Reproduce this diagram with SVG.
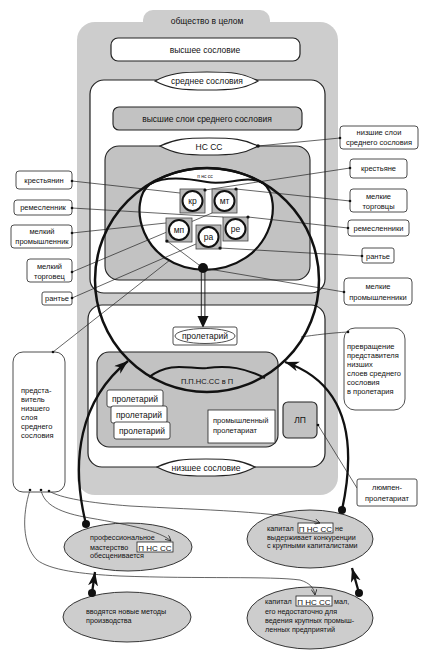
<svg xmlns="http://www.w3.org/2000/svg" width="427" height="656" viewBox="0 0 427 656">
<defs>
<style>
text{font-family:"Liberation Sans","DejaVu Sans",sans-serif;fill:#111}
.t{font-size:8.5px;text-anchor:middle}
.s{font-size:7.5px;text-anchor:middle}
.e{font-size:7.2px}
.l{font-size:7.5px}
.box{fill:#fff;stroke:#222;stroke-width:0.8}
.g1{fill:#cdcdcd}
.g2{fill:#c2c2c2;stroke:#222;stroke-width:1.1}
.wb{fill:#fff;stroke:#222;stroke-width:1.2}
.lens{fill:#fff;stroke:#222;stroke-width:1.2}
.thin{fill:none;stroke:#222;stroke-width:0.7}
.thick{fill:none;stroke:#111;stroke-width:2.3}
.sq{fill:#b9b9b9;stroke:#444;stroke-width:0.8}
.ci{fill:#fff;stroke:#111;stroke-width:2}
.el{fill:#cdcdcd;stroke:#222;stroke-width:0.9}
.dot{fill:#111}
</style>
<marker id="big" markerWidth="16" markerHeight="12" refX="14" refY="5" orient="auto" markerUnits="userSpaceOnUse"><path d="M0,0 L14,5 L0,10 L4,5 Z" fill="#111"/></marker>
<marker id="sm" markerWidth="8" markerHeight="6" refX="6" refY="3" orient="auto" markerUnits="userSpaceOnUse"><path d="M0,0 L6,3 L0,6" fill="none" stroke="#222" stroke-width="0.8"/></marker>
</defs>

<g id="society">
<rect class="g1" x="143" y="10" width="127" height="24" rx="10"/>
<rect class="g1" x="77" y="22" width="261" height="473" rx="18"/>
<text class="t" x="207" y="24">общество в целом</text>
</g>

<g id="upper-estate">
<rect class="wb" x="111" y="38" width="189" height="23" rx="7"/>
<text class="t" x="205" y="52.5">высшее сословие</text>
</g>

<g id="middle-estate">
<rect class="wb" x="90" y="80" width="235" height="213" rx="14"/>
<path class="lens" d="M155,81 C170,73 182,72 207,72 C232,72 244,73 258,81 C244,89 232,90 207,90 C182,90 170,89 155,81 Z"/>
<text class="t" x="207" y="84">среднее сословия</text>
</g>

<g id="upper-middle">
<rect class="g2" x="113" y="107" width="189" height="23" rx="6"/>
<text class="t" x="207" y="122">высшие слои среднего сословия</text>
</g>

<g id="lower-middle">
<rect class="g2" x="105" y="146" width="205" height="134" rx="14"/>
<path class="lens" d="M160,146 C175,139 185,138 209,138 C233,138 244,139 258,146 C244,154 233,155 209,155 C185,155 175,154 160,146 Z"/>
<text class="t" x="209" y="149.5">НС СС</text>
</g>

<g id="lower-estate">
<rect class="wb" x="88" y="305" width="237" height="162" rx="14"/>
<path class="lens" d="M157,467 C172,460 182,459 206,459 C230,459 241,460 255,467 C241,475 230,476 206,476 C182,476 172,475 157,467 Z"/>
<text class="t" x="206" y="470.5">низшее сословие</text>
</g>

<g id="proletarianization-box">
<rect class="g2" x="97" y="352" width="181" height="95" rx="12"/>
</g>

<g id="nscc-ellipse">
<path d="M150,184 A112,112 0 0 1 263,183 C285,200 272,268 205,270 C138,268 128,200 150,184 Z" fill="#fff" stroke="#111" stroke-width="2.2"/>
<path d="M150,184 C165,176 185,178 207,182 C228,186 245,174 263,183" fill="none" stroke="#111" stroke-width="2"/>
<text x="205" y="178" style="font-size:5px;text-anchor:middle">п нс сс</text>
</g>

<g id="e1"><ellipse class="el" cx="128" cy="547" rx="64" ry="24"/>
<text class="e" x="90" y="539.5">профессиональное</text><text class="e" x="90" y="549.5">мастерство</text><text class="e" x="90" y="558">обесценивается</text>
<rect x="137" y="542" width="36" height="10" fill="#fff" stroke="#222" stroke-width="0.8"/><text x="155" y="550.5" style="font-size:8px;text-anchor:middle">П НС СС</text></g>
<g id="e2"><ellipse class="el" cx="310" cy="539" rx="63" ry="29"/>
<text class="e" x="267" y="531">капитал</text><rect x="298" y="523" width="35" height="10" fill="#fff" stroke="#222" stroke-width="0.8"/><text x="315.5" y="531.5" style="font-size:8px;text-anchor:middle">П НС СС</text><text class="e" x="335" y="531">не</text>
<text class="e" x="267" y="539.5">выдерживает конкуренции</text><text class="e" x="267" y="548">с крупными капиталистами</text></g>
<g id="e3"><ellipse class="el" cx="127" cy="617" rx="64" ry="25"/>
<text class="e" x="86" y="613.5">вводятся новые методы</text><text class="e" x="86" y="622.5">производства</text></g>
<g id="e4"><ellipse class="el" cx="310" cy="618" rx="63" ry="31"/>
<text class="e" x="265" y="603.5">капитал</text><rect x="296" y="596" width="36" height="10" fill="#fff" stroke="#222" stroke-width="0.8"/><text x="314" y="604.5" style="font-size:8px;text-anchor:middle">П НС СС</text><text class="e" x="334" y="603.5">мал,</text>
<text class="e" x="265" y="614">его недостаточно для</text><text class="e" x="265" y="623">ведения крупных промыш-</text><text class="e" x="265" y="631.5">ленных предприятий</text></g>

<g id="connectors">
<polyline class="thin" points="72,181 180,193"/>
<polyline class="thin" points="72,208 223,217"/>
<polyline class="thin" points="72,233 166,223"/>
<polyline class="thin" points="72,272 212,213"/>
<polyline class="thin" points="72,298 196,244"/>
<polyline class="thin" points="53,352 170,260"/>
<polyline class="thin" points="350,168 205,190"/>
<polyline class="thin" points="350,201 236,189"/>
<polyline class="thin" points="348,228 248,217"/>
<polyline class="thin" points="362,256 220,248"/>
<polyline class="thin" points="344,292 203,268 167,241"/>
<polyline class="thin" points="340,138 258,146"/>
<path class="thin" d="M348,332 C330,333 315,335 301,337"/>
<polyline class="thin" points="357,488 318,425"/>
<path class="thin" d="M30,490 C22,515 22,545 37,560 C50,570 80,574 120,576 C200,579 270,576 300,580 C310,583 314,588 315,595" marker-end="url(#sm)"/>
<path class="thin" d="M41,490 C44,505 60,513 90,518 C130,525 160,531 171,541" marker-end="url(#sm)"/>
<path class="thin" d="M49,491 C60,498 90,503 130,506 C200,510 280,511 320,523" marker-end="url(#sm)"/>
<line x1="201.3" y1="272" x2="201.3" y2="317" stroke="#111" stroke-width="0.9"/>
<line x1="204.9" y1="272" x2="204.9" y2="317" stroke="#111" stroke-width="0.9"/>
<path d="M197.5,316 L208.5,316 L203,328 Z" fill="#111"/>
<path class="thick" d="M86,524 C70,460 80,400 128,361" marker-end="url(#big)"/>
<path class="thick" d="M342,510 C355,450 352,385 285,362" marker-end="url(#big)"/>
<path class="thick" d="M92,593 L95,572" marker-end="url(#big)"/>
<path class="thick" d="M359,593 L352,568" marker-end="url(#big)"/>
</g>

<g id="sq-kr"><rect class="sq" x="180" y="189" width="25" height="24"/><circle class="ci" cx="192.5" cy="201" r="10"/><text class="t" x="192.5" y="204">кр</text></g>
<g id="sq-mt"><rect class="sq" x="212" y="189" width="25" height="24"/><circle class="ci" cx="224.5" cy="201" r="10"/><text class="t" x="224.5" y="204">мт</text></g>
<g id="sq-mp"><rect class="sq" x="166" y="218" width="26" height="24"/><circle class="ci" cx="179" cy="230" r="10"/><text class="t" x="179" y="233">мп</text></g>
<g id="sq-ra"><rect class="sq" x="196" y="225" width="25" height="24"/><circle class="ci" cx="208.5" cy="237" r="10"/><text class="t" x="208.5" y="240">ра</text></g>
<g id="sq-re"><rect class="sq" x="223" y="217" width="25" height="24"/><circle class="ci" cx="235.5" cy="229" r="10"/><text class="t" x="235.5" y="232">ре</text></g>

<g id="big-circle">
<circle cx="207" cy="280" r="112" fill="none" stroke="#111" stroke-width="2.5"/>
<path d="M149,377 C172,360 190,370 207,368 C228,365 245,368 265,378" fill="none" stroke="#111" stroke-width="2"/>
<text x="207" y="384" style="font-size:7.5px;text-anchor:middle">П.П.НС.СС в П</text>
</g>

<g id="proletarian-top">
<rect class="box" x="173" y="327" width="64" height="18" rx="2"/>
<ellipse cx="205" cy="336" rx="30" ry="7.5" fill="none" stroke="#222" stroke-width="0.8"/>
<text class="t" x="205" y="339">пролетарий</text>
</g>
<g id="proletarian-1"><rect class="box" x="107" y="390" width="56" height="17" rx="2"/><text class="t" x="135" y="401.5">пролетарий</text></g>
<g id="proletarian-2"><rect class="box" x="111" y="406" width="56" height="17" rx="2"/><text class="t" x="139" y="417.5">пролетарий</text></g>
<g id="proletarian-3"><rect class="box" x="114" y="422" width="56" height="17" rx="2"/><text class="t" x="142" y="433.5">пролетарий</text></g>
<g id="industrial"><rect class="box" x="208" y="410" width="67" height="33"/><text class="l" x="213" y="423">промышленный</text><text class="l" x="213" y="433">пролетариат</text></g>
<g id="lp"><rect class="g2" x="283" y="402" width="34" height="36" rx="5"/><text class="t" x="300" y="423">ЛП</text></g>

<g id="lbl-krestyanin"><rect class="box" x="16" y="171" width="56" height="18" rx="3"/><text class="s" x="44" y="182.5">крестьянин</text></g>
<g id="lbl-remeslennik"><rect class="box" x="14" y="200" width="58" height="15" rx="3"/><text class="s" x="43" y="210">ремесленник</text></g>
<g id="lbl-prom"><rect class="box" x="11" y="225" width="61" height="23" rx="3"/><text class="s" x="42" y="234">мелкий</text><text class="s" x="42" y="244">промышленник</text></g>
<g id="lbl-torg"><rect class="box" x="27" y="259" width="45" height="23" rx="3"/><text class="s" x="49.5" y="268.5">мелкий</text><text class="s" x="49.5" y="278.5">торговец</text></g>
<g id="lbl-rante-l"><rect class="box" x="42" y="292" width="30" height="13" rx="2"/><text class="s" x="57" y="301">рантье</text></g>
<g id="lbl-predst"><rect class="box" x="13" y="352" width="52" height="140" rx="10"/>
<text class="l" x="21" y="392.5">предста-</text><text class="l" x="21" y="401.5">витель</text><text class="l" x="21" y="410.5">низшего</text><text class="l" x="21" y="419.5">слоя</text><text class="l" x="21" y="428.5">среднего</text><text class="l" x="21" y="437.5">сословия</text></g>

<g id="lbl-nizshie"><rect class="box" x="340" y="126" width="78" height="23" rx="3"/><text class="s" x="379" y="135">низшие слои</text><text class="s" x="379" y="145">среднего сословия</text></g>
<g id="lbl-krestyane"><rect class="box" x="350" y="159" width="57" height="19" rx="3"/><text class="s" x="378.5" y="171">крестьяне</text></g>
<g id="lbl-torgovtsy"><rect class="box" x="350" y="189" width="57" height="23" rx="3"/><text class="s" x="378.5" y="198.5">мелкие</text><text class="s" x="378.5" y="208.5">торговцы</text></g>
<g id="lbl-remeslenniki"><rect class="box" x="348" y="220" width="61" height="16" rx="3"/><text class="s" x="378.5" y="231">ремесленники</text></g>
<g id="lbl-rante-r"><rect class="box" x="362" y="248" width="32" height="15" rx="2"/><text class="s" x="378" y="258.5">рантье</text></g>
<g id="lbl-promyshlenniki"><rect class="box" x="344" y="278" width="68" height="27" rx="4"/><text class="s" x="378" y="289">мелкие</text><text class="s" x="378" y="299.5">промышленники</text></g>
<g id="lbl-prevrashchenie"><rect class="box" x="344" y="328" width="61" height="82" rx="11"/>
<text class="l" x="347" y="348.5">превращение</text><text class="l" x="347" y="357.5">представителя</text><text class="l" x="347" y="366.5">низших</text><text class="l" x="347" y="375.5">слоев среднего</text><text class="l" x="347" y="384.5">сословия</text><text class="l" x="347" y="393.5">в пролетария</text></g>
<g id="lbl-lumpen"><rect class="box" x="357" y="479" width="60" height="27" rx="2"/><text class="s" x="387" y="490">люмпен-</text><text class="s" x="387" y="501">пролетариат</text></g>

<g id="dots">
<circle class="dot" cx="203" cy="268" r="5"/>
<circle class="dot" cx="86" cy="524" r="4"/>
<circle class="dot" cx="342" cy="510" r="4"/>
<circle class="dot" cx="92" cy="593" r="4"/>
<circle class="dot" cx="359" cy="593" r="4"/>
<circle class="dot" cx="258" cy="146" r="1.8"/>
<circle class="dot" cx="205" cy="190" r="1.6"/>
<circle class="dot" cx="236" cy="189" r="1.6"/>
<circle class="dot" cx="248" cy="217" r="1.6"/>
<circle class="dot" cx="220" cy="248" r="1.6"/>
<circle class="dot" cx="167" cy="241" r="1.6"/>
<circle class="dot" cx="72" cy="181" r="1.3"/>
<circle class="dot" cx="72" cy="208" r="1.3"/>
<circle class="dot" cx="72" cy="233" r="1.3"/>
<circle class="dot" cx="72" cy="272" r="1.3"/>
<circle class="dot" cx="72" cy="298" r="1.3"/>
<circle class="dot" cx="53" cy="352" r="1.3"/>
<circle class="dot" cx="350" cy="168" r="1.3"/>
<circle class="dot" cx="350" cy="201" r="1.3"/>
<circle class="dot" cx="348" cy="228" r="1.3"/>
<circle class="dot" cx="362" cy="256" r="1.3"/>
<circle class="dot" cx="344" cy="292" r="1.3"/>
<circle class="dot" cx="340" cy="138" r="1.3"/>
<circle class="dot" cx="348" cy="332" r="1.3"/>
<circle class="dot" cx="318" cy="425" r="1.3"/>
<circle class="dot" cx="30" cy="490" r="1.3"/>
<circle class="dot" cx="41" cy="490" r="1.3"/>
<circle class="dot" cx="49" cy="491" r="1.3"/>
</g>
</svg>
